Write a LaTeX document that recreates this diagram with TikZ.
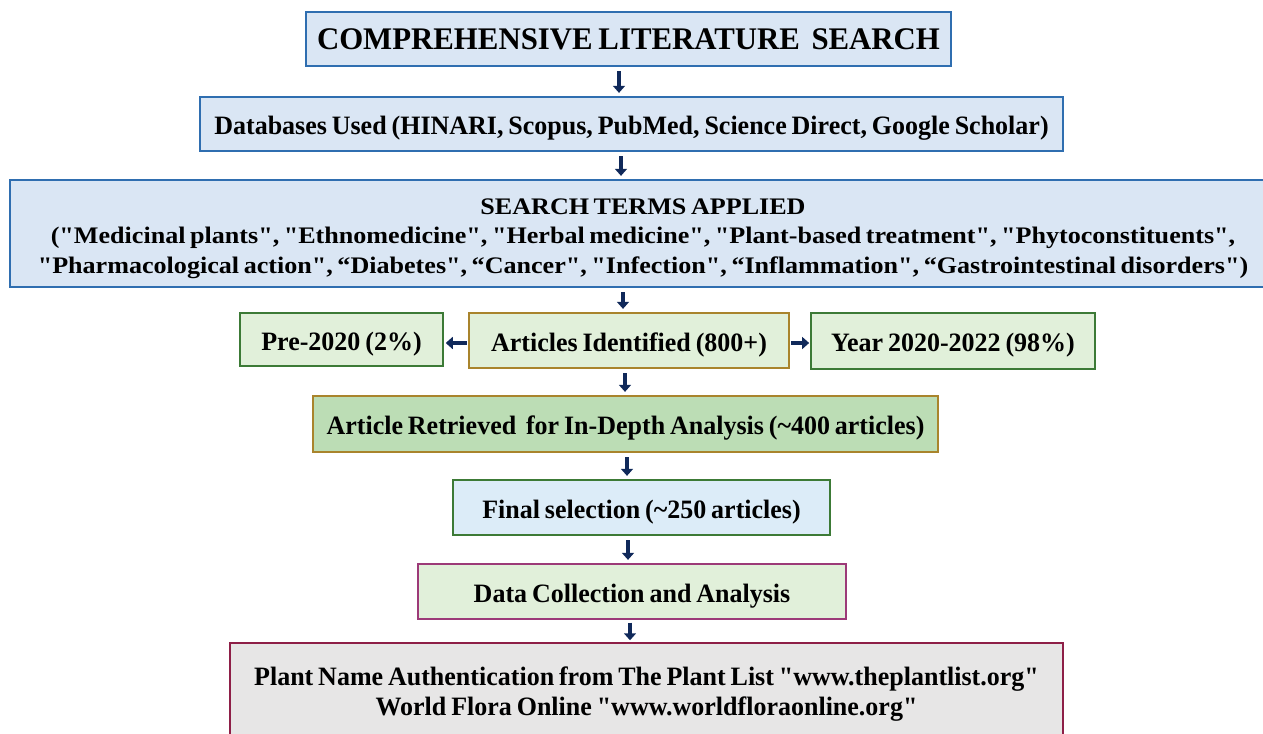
\documentclass[tikz,border=0pt]{standalone}
\usepackage{fontspec}
\newfontfamily\flowfont{Liberation Serif}[FakeStretch=0.98,WordSpace=0.75]
\newfontfamily\termsfont{Liberation Serif}[FakeStretch=1.1,WordSpace=0.7]
\usetikzlibrary{arrows.meta,calc}

\newcommand\pu{0.02cm}

\definecolor{fillblue}{HTML}{DAE6F4}
\definecolor{fillsky}{HTML}{DCECF8}
\definecolor{drawblue}{HTML}{2F6EB0}
\definecolor{fillgreen}{HTML}{E1F0DA}
\definecolor{fillmidgreen}{HTML}{BCDDB5}
\definecolor{drawgreen}{HTML}{3C7A36}
\definecolor{drawgold}{HTML}{A9842C}
\definecolor{drawplum}{HTML}{9C3A78}
\definecolor{fillgrey}{HTML}{E7E6E6}
\definecolor{drawwine}{HTML}{8E1F47}
\definecolor{arrownavy}{HTML}{10295A}

\tikzstyle{box} = [draw,line width=1.1pt,inner sep=0pt,align=center,font=\flowfont\bfseries\fontsize{15.1}{17}\selectfont]
\tikzstyle{oneline} = [text height=12.3pt,text depth=0pt]
\tikzstyle{bluebox} = [box,oneline,draw=drawblue,fill=fillblue]
\tikzstyle{greenbox} = [box,oneline,draw=drawgreen,fill=fillgreen]
\tikzstyle{goldbox} = [box,oneline,draw=drawgold,fill=fillgreen]
\tikzstyle{arrowdecorate} = [-{Triangle[length=4pt,width=6.8pt]},line width=2.8pt,draw=arrownavy]

\begin{document}
\begin{tikzpicture}[x=\pu,y=-\pu]
  \useasboundingbox (0,0) rectangle (1263,733);

  %% boxes
  \node (title) at (628.5,39) [bluebox,minimum width=645*\pu,minimum height=54*\pu,font=\flowfont\bfseries\fontsize{17.9}{20}\selectfont]
    {COMPREHENSIVE LITERATURE\ \ SEARCH};
  \node (db) at (631.5,124) [bluebox,minimum width=863*\pu,minimum height=54*\pu]
    {Databases Used (HINARI, Scopus, PubMed, Science Direct, Google Scholar)};
  \node (terms) at (643,233.5) [box,draw=drawblue,fill=fillblue,minimum width=1266*\pu,minimum height=107*\pu,font=\termsfont\bfseries\fontsize{13.5}{16.8}\selectfont]
    {\rule{0pt}{1.1em}SEARCH TERMS APPLIED\\
     ("Medicinal plants", "Ethnomedicine", "Herbal medicine", "Plant-based treatment", "Phytoconstituents",\\
     "Pharmacological action", “Diabetes", “Cancer", "Infection", “Inflammation", “Gastrointestinal disorders")};
  \node (pre) at (341.5,339.5) [greenbox,minimum width=203*\pu,minimum height=53*\pu]
    {Pre-2020 (2\%)};
  \node (found) at (629,340.5) [goldbox,minimum width=320*\pu,minimum height=55*\pu]
    {Articles Identified (800+)};
  \node (recent) at (953,341) [greenbox,minimum width=284*\pu,minimum height=56*\pu]
    {Year 2020-2022 (98\%)};
  \node (retrieved) at (625.5,424) [goldbox,fill=fillmidgreen,minimum width=625*\pu,minimum height=56*\pu]
    {Article Retrieved\ \ for In-Depth Analysis (\textasciitilde400 articles)};
  \node (final) at (641.5,507.5) [greenbox,fill=fillsky,minimum width=377*\pu,minimum height=55*\pu]
    {Final selection (\textasciitilde250 articles)};
  \node (collect) at (632,591.5) [box,oneline,draw=drawplum,fill=fillgreen,minimum width=428*\pu,minimum height=55*\pu]
    {Data Collection and Analysis};
  \node (names) at (646.5,694) [box,draw=drawwine,fill=fillgrey,minimum width=833*\pu,minimum height=102*\pu]
    {Plant Name Authentication from The Plant List "www.theplantlist.org"\\
     World Flora Online "www.worldfloraonline.org"};

  %% arrows
  \foreach \startnode/\endnode/\dx in {title/db/-9.5, db/terms/-10.5, terms/found/-20,
    found/retrieved/-4, retrieved/final/1.5, final/collect/-13.5}
  {
    \draw[arrowdecorate,shorten <=2.5pt,shorten >=1.8pt]
      ($(\startnode.south)+(\dx,0)$) -- ($(\startnode.south |- \endnode.north)+(\dx,0)$);
  }
  \draw[arrowdecorate,shorten <=1.5pt,shorten >=1pt] ($(collect.south)+(-2,0)$) -- ($(collect.south |- names.north)+(-2,0)$);
  \draw[arrowdecorate,shorten <=0.8pt,shorten >=1pt] ($(found.west)+(0,2.5)$) -- ($(pre.east |- found.west)+(0,2.5)$);
  \draw[arrowdecorate,shorten <=0.8pt,shorten >=0.5pt] ($(found.east)+(0,2.5)$) -- ($(recent.west |- found.east)+(0,2.5)$);
\end{tikzpicture}
\end{document}
